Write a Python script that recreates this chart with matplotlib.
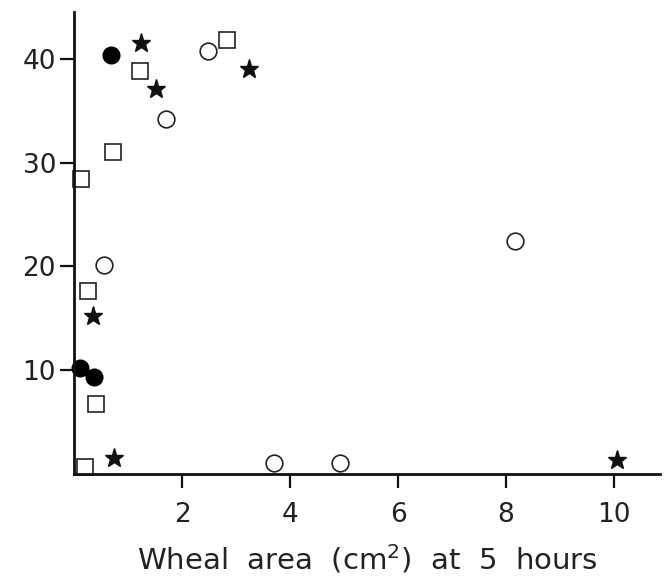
import matplotlib.pyplot as plt

plt.rcParams['font.family'] = ['DejaVu Sans']
plt.rcParams['mathtext.default'] = 'regular'

# values
filled_x = [0.69, 0.11, 0.37]
filled_y = [40.4, 10.2, 9.3]
star_x = [1.24, 1.52, 3.23, 0.34, 0.74, 10.05]
star_y = [41.5, 37.1, 39.0, 15.2, 1.5, 1.35]
square_x = [1.22, 2.84, 0.72, 0.13, 0.26, 0.40, 0.20]
square_y = [38.8, 41.8, 31.0, 28.4, 17.6, 6.75, 0.7]
open_x = [2.47, 1.71, 0.56, 8.16, 3.71, 4.92]
open_y = [40.8, 34.2, 20.1, 22.4, 1.0, 1.0]

xticks = [2, 4, 6, 8, 10]
yticks = [10, 20, 30, 40]

fig = plt.figure(figsize=(6.68, 5.8), dpi=100)
ax = fig.add_axes([0.111, 0.183, 0.877, 0.796])

ax.plot(filled_x, filled_y, 'o', ms=12, color='black', clip_on=False)
ax.plot(star_x, star_y, '*', ms=14, color='#111111', clip_on=False)
ax.plot(square_x, square_y, 's', ms=11, mfc='white', mec='#222222', mew=1.2, clip_on=False)
ax.plot(open_x, open_y, 'o', ms=12, mfc='white', mec='#222222', mew=1.2, clip_on=False)

ax.set_xlim(0, 10.85)
ax.set_ylim(0, 44.5)
ax.set_xticks(xticks)
ax.set_yticks(yticks)

for s in ['top', 'right']:
    ax.spines[s].set_visible(False)
for s in ['left', 'bottom']:
    ax.spines[s].set_linewidth(2)
    ax.spines[s].set_color('#111111')

ax.tick_params(axis='both', direction='out', length=10, width=1.6, color='#111111',
               labelsize=19, labelcolor='#222222')
ax.tick_params(axis='x', pad=10)
ax.tick_params(axis='y', pad=3)

ax.set_xlabel(r'Wheal  area  (cm$^{2}$)  at  5  hours', fontsize=21, color='#222222',
              labelpad=11)

plt.savefig("out.png")
